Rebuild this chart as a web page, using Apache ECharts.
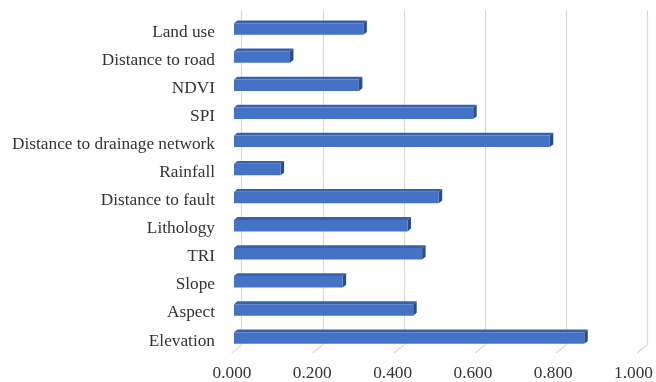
<!DOCTYPE html>
<html>
<head>
<meta charset="utf-8">
<script src="https://cdn.jsdelivr.net/npm/echarts@6/dist/echarts.min.js"></script>
<style>
  html, body { margin: 0; padding: 0; background: #ffffff; }
  #chart { width: 656px; height: 382px; }
</style>
</head>
<body>
<div id="chart"></div>
<script>
// Factor names, listed from the bottom bar to the top bar
const factors = [
  'Elevation', 'Aspect', 'Slope', 'TRI', 'Lithology', 'Distance to fault',
  'Rainfall', 'Distance to drainage network', 'SPI', 'NDVI',
  'Distance to road', 'Land use'
];
// Importance score of each factor
const importance = [
  0.864, 0.442, 0.268, 0.464, 0.428, 0.505,
  0.115, 0.779, 0.590, 0.308, 0.138, 0.319
];
// Value axis ticks
const xTicks = [0, 0.2, 0.4, 0.6, 0.8, 1.0];

const FONT = "'Liberation Serif', 'Times New Roman', serif";
const TEXT_COLOR = '#333333';
const GRID_COLOR = '#d9d9d9';

// Depth of the 3D box: back wall is shifted right/up from the front plane
const WALL_DX = 10, WALL_DY = 8;
// Depth of each bar block
const BAR_DX = 3.5, BAR_DY = 2.8, BAR_H = 11.5;

const chart = echarts.init(document.getElementById('chart'), null, { renderer: 'canvas' });

function renderBar(params, api) {
  const idx = api.value(0);
  const val = api.value(1);
  const p0 = api.coord([0, idx]);
  const p1 = api.coord([val, idx]);
  const x0 = p0[0], x1 = p1[0], cy = p0[1];
  const yTop = cy - BAR_H / 2, yBot = cy + BAR_H / 2;
  return {
    type: 'group',
    children: [
      { // top face
        type: 'polygon',
        shape: { points: [[x0, yTop], [x1, yTop], [x1 + BAR_DX, yTop - BAR_DY], [x0 + BAR_DX, yTop - BAR_DY]] },
        style: { fill: '#3761ab' }
      },
      { // end face
        type: 'polygon',
        shape: { points: [[x1, yTop], [x1 + BAR_DX, yTop - BAR_DY], [x1 + BAR_DX, yBot - BAR_DY], [x1, yBot]] },
        style: { fill: '#2a4c88' }
      },
      { // front face
        type: 'rect',
        shape: { x: x0, y: yTop, width: x1 - x0, height: BAR_H },
        style: { fill: '#4472c4' }
      }
    ]
  };
}

function renderFloorLine(params, api) {
  const p = api.coord([api.value(0), 0]);
  return {
    type: 'line',
    shape: { x1: p[0], y1: p[1], x2: p[0] - WALL_DX, y2: p[1] + WALL_DY },
    style: { stroke: GRID_COLOR, lineWidth: 1.2 }
  };
}

const option = {
  backgroundColor: '#ffffff',
  animation: false,
  grid: [
    // bars plane
    { left: 234, width: 405.4, top: 14.95, bottom: 29.95 },
    // back wall
    { left: 241.7, width: 405.4, top: 10, bottom: 37 },
    // front floor edge (tick labels)
    { left: 232, width: 405.4, top: 10, bottom: 29 },
    // category labels, sitting slightly below the bar centres
    { left: 234, width: 405.4, top: 17.95, bottom: 26.95 }
  ],
  xAxis: [
    { gridIndex: 0, type: 'value', min: 0, max: 1, show: false },
    {
      gridIndex: 1, type: 'value', min: 0, max: 1, interval: 0.2,
      axisLine: { show: false }, axisTick: { show: false }, axisLabel: { show: false },
      splitLine: { show: true, lineStyle: { color: GRID_COLOR, width: 1.2 } }
    },
    {
      gridIndex: 2, type: 'value', min: 0, max: 1, interval: 0.2,
      axisLine: { show: false }, axisTick: { show: false }, splitLine: { show: false },
      axisLabel: {
        margin: 12, fontFamily: FONT, fontSize: 17.3, color: TEXT_COLOR,
        formatter: v => v.toFixed(3)
      }
    },
    { gridIndex: 3, type: 'value', min: 0, max: 1, show: false }
  ],
  yAxis: [
    { gridIndex: 0, type: 'category', data: factors, show: false },
    { gridIndex: 1, type: 'value', min: 0, max: 1, show: false },
    { gridIndex: 2, type: 'value', min: 0, max: 1, show: false },
    {
      gridIndex: 3, type: 'category', data: factors,
      axisLine: { show: false }, axisTick: { show: false }, splitLine: { show: false },
      axisLabel: { margin: 19, fontFamily: FONT, fontSize: 17.3, color: TEXT_COLOR }
    }
  ],
  series: [
    {
      type: 'custom', xAxisIndex: 1, yAxisIndex: 1,
      data: xTicks.map(v => [v]),
      renderItem: renderFloorLine,
      z: 1
    },
    {
      type: 'custom', xAxisIndex: 0, yAxisIndex: 0,
      data: importance.map((v, i) => [i, v]),
      encode: { x: 1, y: 0 },
      renderItem: renderBar,
      z: 5
    }
  ]
};

chart.setOption(option);
</script>
</body>
</html>
